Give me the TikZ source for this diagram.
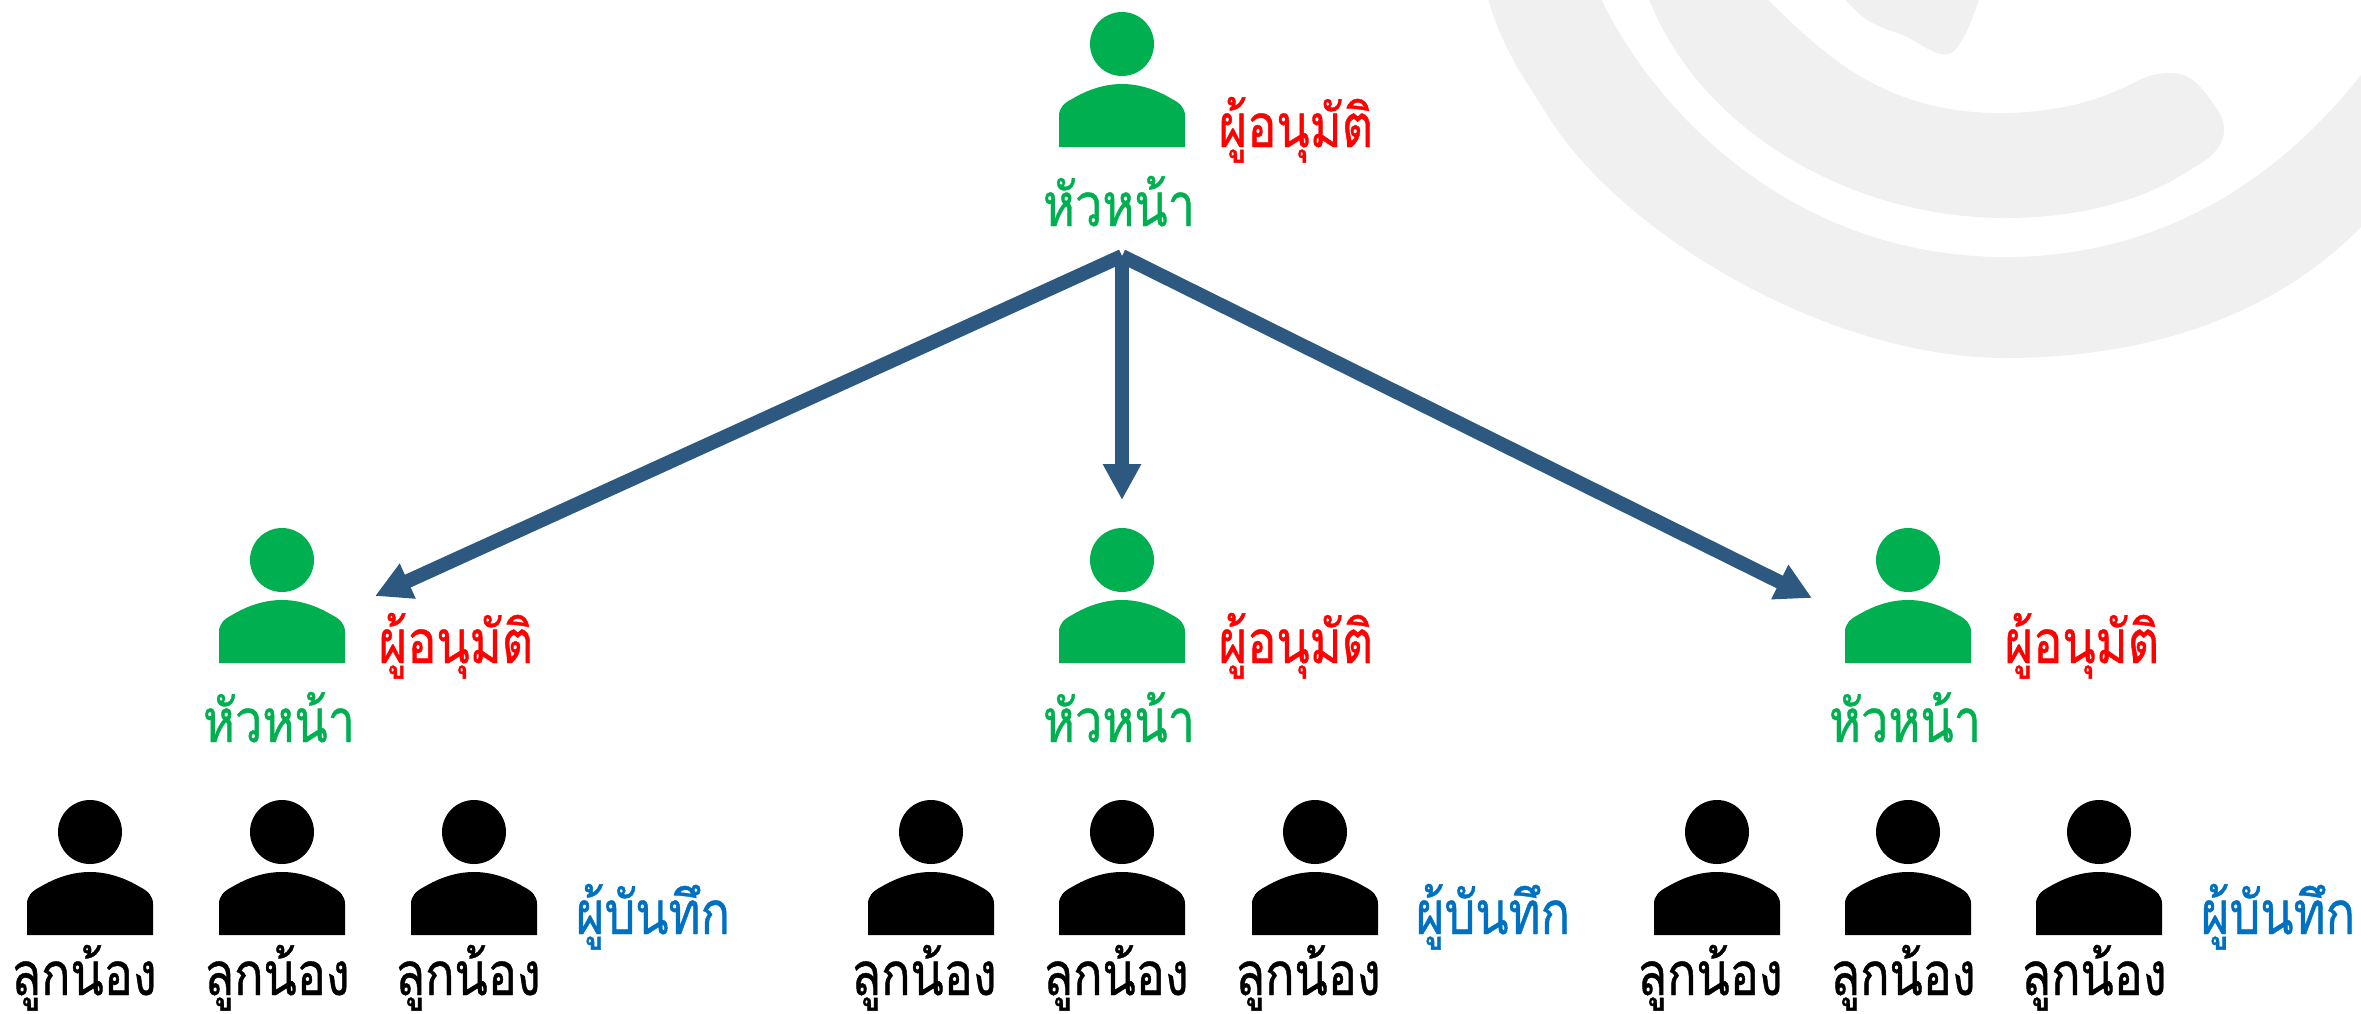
\documentclass[tikz,border=0pt]{standalone}
\usepackage{fontspec}
\usetikzlibrary{arrows.meta}
\newfontfamily\thaifont[Script=Thai,FakeStretch=0.81,FakeBold=0.7]{Loma}
\definecolor{gr}{HTML}{00B050}
\definecolor{rd}{HTML}{FF0000}
\definecolor{bl}{HTML}{0070C0}
\definecolor{ar}{HTML}{2D5980}
\definecolor{wm}{HTML}{F0F0F0}
\tikzset{
  x=1pt,y=-1pt,
  person/.pic={
    \fill[pic actions] (0,0) circle[radius=32];
    \fill[pic actions] (-63,103) -- (-63,72) .. controls (-63,64) and (-58,59) .. (-50,55)
      .. controls (-35,46) and (-18,40) .. (0,40) .. controls (18,40) and (35,46) .. (50,55)
      .. controls (58,59) and (63,64) .. (63,72) -- (63,103) -- cycle;
  },
  lbl/.style={anchor=base,inner sep=0pt,font=\thaifont\fontsize{60}{60}\selectfont},
  chief/.style={lbl,text=gr},
  approver/.style={lbl,text=rd},
  recorder/.style={lbl,text=bl},
  staff/.style={lbl,text=black},
  link/.style={ar,line width=14pt,-{Triangle[length=36pt,width=36pt]}},
  wmark/.style={fill=wm,draw=none}
}
\begin{document}
\begin{tikzpicture}
\useasboundingbox (0,0) rectangle (2361,1013);
\begin{scope}
\clip (0,0) rectangle (2361,1013);
\fill[wmark] (1488,-1) .. controls (1503,50) and (1524,78) .. (1546,113)
  .. controls (1620,235) and (1830,358) .. (2005,358)
  .. controls (2140,358) and (2270,320) .. (2361,227) -- (2400,180) -- (2400,20) -- (2361,75)
  .. controls (2270,190) and (2150,257) .. (2005,257)
  .. controls (1800,257) and (1660,120) .. (1601,-1) -- cycle;
\fill[wmark] (1649,-1) .. controls (1700,130) and (1850,218) .. (2005,218)
  .. controls (2080,218) and (2145,200) .. (2190,170)
  .. controls (2205,161) and (2224,150) .. (2224,130)
  .. controls (2224,118) and (2219,112) .. (2213,103)
  .. controls (2200,85) and (2190,73) .. (2170,73)
  .. controls (2155,73) and (2145,77) .. (2133,83)
  .. controls (2095,103) and (2050,113) .. (2000,113)
  .. controls (1880,113) and (1820,50) .. (1767,-1) -- cycle;
\fill[wmark] (1845,-1) .. controls (1870,30) and (1890,28) .. (1909,38)
  .. controls (1925,47) and (1945,62) .. (1955,50)
  .. controls (1962,42) and (1970,28) .. (1979,-1) -- cycle;
\end{scope}
% arrows
\coordinate (apex) at (1122,256);
\coordinate (tipL) at (375,596);
\coordinate (tipM) at (1122,500);
\coordinate (tipR) at (1812,598);
\draw[link] (apex) -- (tipL);
\draw[link] (apex) -- (tipM);
\draw[link] (apex) -- (tipR);
% chiefs
\pic[gr] at (1122,44) {person};
\pic[gr] at (282,560) {person};
\pic[gr] at (1122,560) {person};
\pic[gr] at (1908,560) {person};
\node[chief] (c0) at (1119,226) {หัวหน้า};
\node[chief] (c1) at (279,742) {หัวหน้า};
\node[chief] (c2) at (1119,742) {หัวหน้า};
\node[chief] (c3) at (1905,742) {หัวหน้า};
\node[approver] (a0) at (1296,147) {ผู้อนุมัติ};
\node[approver] (a1) at (456,663) {ผู้อนุมัติ};
\node[approver] (a2) at (1296,663) {ผู้อนุมัติ};
\node[approver] (a3) at (2082,663) {ผู้อนุมัติ};
% staff
\foreach \x in {90,282,474,931,1122,1315,1717,1908,2099} \pic[black] at (\x,832) {person};
\node[staff] (s1) at (84,995) {ลูกน้อง};
\node[staff] (s2) at (277,995) {ลูกน้อง};
\node[staff] (s3) at (468,995) {ลูกน้อง};
\node[staff] (s4) at (924,995) {ลูกน้อง};
\node[staff] (s5) at (1116,995) {ลูกน้อง};
\node[staff] (s6) at (1308,995) {ลูกน้อง};
\node[staff] (s7) at (1710,995) {ลูกน้อง};
\node[staff] (s8) at (1903,995) {ลูกน้อง};
\node[staff] (s9) at (2094,995) {ลูกน้อง};
\node[recorder] (r1) at (653,934) {ผู้บันทึก};
\node[recorder] (r2) at (1493,934) {ผู้บันทึก};
\node[recorder] (r3) at (2278,934) {ผู้บันทึก};
\end{tikzpicture}
\end{document}
